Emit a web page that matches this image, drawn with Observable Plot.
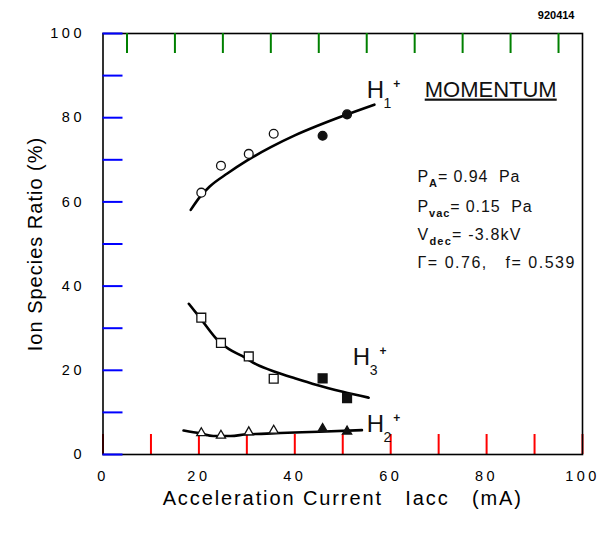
<!DOCTYPE html>
<html>
<head>
<meta charset="utf-8">
<script src="https://cdn.jsdelivr.net/npm/d3@7"></script>
<script src="https://cdn.jsdelivr.net/npm/@observablehq/plot@0.6"></script>
<style>
  html, body { margin: 0; padding: 0; background: #fff; }
  #chart svg [aria-label="x-axis tick label"] text,
  #chart svg [aria-label="y-axis tick label"] text { letter-spacing: 3.5px; }
</style>
</head>
<body>
<div id="chart"></div>
<script>
// ---- data ----
const currents = [20.5, 24.6, 30.4, 35.6, 45.8, 50.9];   // Iacc (mA)
const isFilled = [false, false, false, false, true, true];
const h1Ratio = [62.2, 68.6, 71.4, 76.2, 75.7, 80.8];
const h3Ratio = [32.5, 26.5, 23.3, 18.0, 18.1, 13.4];
const h2Ratio = [5.1, 4.5, 5.3, 5.7, 6.1, 5.5];

const h1FitX = [18.3, 20.3, 22.2, 26, 30, 35, 40, 45, 50, 56.6];
const h1FitY = [58.1, 61.3, 63.6, 66.8, 69.8, 73.0, 75.8, 78.2, 80.4, 83.1];
const h3FitX = [17.9, 20.2, 24.3, 26.2, 29, 32, 36, 40, 44.6, 50, 55.4];
const h3FitY = [35.8, 32.5, 26.7, 25.1, 23.4, 21.4, 19.6, 18.1, 16.5, 14.9, 13.5];
const h2FitX = [16.8, 20.3, 23, 26.6, 30, 33, 37, 45, 54];
const h2FitY = [5.7, 5.0, 4.4, 4.4, 4.8, 4.9, 5.1, 5.4, 5.8];

const xMajorTicks = [0, 10, 20, 30, 40, 50, 60, 70, 80, 90, 100];
const xMinorTicks = [5, 15, 25, 35, 45, 55, 65, 75, 85, 95];
const yMajorTicks = [0, 10, 20, 30, 40, 50, 60, 70, 80, 90, 100];
const yMinorTicks = [5, 15, 25, 35, 45, 55, 65, 75, 85, 95];
const xTickLabels = [0, 20, 40, 60, 80, 100];
const yTickLabels = [0, 20, 40, 60, 80, 100];

const xTitle = "Acceleration Current   Iacc   (mA)";
const yTitle = "Ion Species Ratio (%)";
const figId = "920414";

// ---- tables ----
const pts = (ys) => currents.map((x, i) => ({x, y: ys[i], fill: isFilled[i] ? "#111" : "white"}));
const fit = (xs, ys) => xs.map((x, i) => ({x, y: ys[i]}));
const h1Pts = pts(h1Ratio), h3Pts = pts(h3Ratio), h2Pts = pts(h2Ratio);

const ink = "#111";
const font = "'Liberation Sans', Arial, Helvetica, sans-serif";

const W = 610, H = 537, mL = 102.5, mR = 28, mT = 33, mB = 83;
const frameW = W - mL - mR, frameH = H - mT - mB;

const plot = Plot.plot({
  width: W,
  height: H,
  marginLeft: mL,
  marginRight: mR,
  marginTop: mT,
  marginBottom: mB,
  style: {fontFamily: font, background: "white"},
  x: {domain: [0, 100], label: null},
  y: {domain: [0, 100], label: null},
  marks: [
    Plot.tickX(xMajorTicks, {x: d => d, insetTop: frameH - 20, stroke: "red", strokeWidth: 2}),
    Plot.axisX(xTickLabels, {anchor: "bottom", tickSize: 0, tickPadding: 16, fontSize: 14.5, label: null}),
    Plot.axisY(yTickLabels, {anchor: "left", tickSize: 0, tickPadding: 18, fontSize: 14.5, label: null}),
    Plot.frame({strokeWidth: 1.6}),
    Plot.tickY(yMajorTicks, {y: d => d, insetRight: frameW - 20, stroke: "blue", strokeWidth: 2}),
    Plot.line(fit(h1FitX, h1FitY), {x: "x", y: "y", curve: "monotone-x", strokeWidth: 2.6}),
    Plot.line(fit(h3FitX, h3FitY), {x: "x", y: "y", curve: "monotone-x", strokeWidth: 2.6}),
    Plot.line(fit(h2FitX, h2FitY), {x: "x", y: "y", curve: "monotone-x", strokeWidth: 2.6}),
    Plot.dot(h1Pts, {x: "x", y: "y", symbol: "circle", r: 4.4, fill: "fill", stroke: ink, strokeWidth: 1.3}),
    Plot.dot(h3Pts, {x: "x", y: "y", symbol: "square", r: 5, fill: "fill", stroke: ink, strokeWidth: 1.3}),
    Plot.dot(h2Pts, {x: "x", y: "y", symbol: "triangle", r: 3.4, fill: "fill", stroke: ink, strokeWidth: 1.3}),
    Plot.tickX(xMinorTicks, {x: d => d, insetBottom: frameH - 20, stroke: "green", strokeWidth: 2}),
    Plot.text([xTitle], {frameAnchor: "bottom", dy: 44, fontSize: 20, textAnchor: "middle", lineAnchor: "middle"}),
    Plot.text([yTitle], {frameAnchor: "left", dx: -67, rotate: -90, fontSize: 20, textAnchor: "middle", lineAnchor: "middle"}),
    Plot.text([figId], {frameAnchor: "top-right", dx: -8, dy: -15, textAnchor: "end", lineAnchor: "bottom", fontSize: 11, fontWeight: "bold"})
  ]
});

document.getElementById("chart").appendChild(plot);
d3.select(plot).selectAll('[aria-label="text"] text').filter(function () { return this.textContent === xTitle; })
  .attr("letter-spacing", 1.9).style("white-space", "pre");
d3.select(plot).selectAll('[aria-label="text"] text').filter(function () { return this.textContent === yTitle; })
  .attr("letter-spacing", 1);

const sx = plot.scale("x"), sy = plot.scale("y");
const svg = d3.select(plot);
const g = svg.append("g").attr("font-family", font).attr("fill", ink).attr("text-anchor", "start");

function ionLabel(xv, yv, sub) {
  const t = g.append("text").attr("x", sx.apply(xv)).attr("y", sy.apply(yv)).attr("font-size", 24);
  t.append("tspan").text("H");
  t.append("tspan").attr("font-size", 14).attr("dy", 10).attr("dx", -0.5).text(sub);
  t.append("tspan").attr("font-size", 12).attr("font-weight", "bold").attr("dy", -20).attr("dx", 2).text("+");
}
ionLabel(55.1, 84.6, "1");
ionLabel(52.2, 21.2, "3");
ionLabel(55.1, 5.2, "2");

g.append("text")
  .attr("x", sx.apply(67.2)).attr("y", sy.apply(84.9))
  .attr("font-size", 22).attr("text-decoration", "underline")
  .text("MOMENTUM");

function param(yv, main, sub, rest, ls) {
  const t = g.append("text").attr("x", sx.apply(65.7)).attr("y", sy.apply(yv))
    .attr("font-size", 16).attr("letter-spacing", ls).style("white-space", "pre");
  t.append("tspan").text(main);
  if (sub) {
    t.append("tspan").attr("font-size", 11).attr("font-weight", "bold").attr("dy", 5).text(sub);
    t.append("tspan").attr("dy", -5).text(rest);
  } else {
    t.append("tspan").text(rest);
  }
}
param(64.65, "P", "A", "= 0.94  Pa", 0.9);
param(57.5, "P", "vac", "= 0.15  Pa", 0.9);
param(50.9, "V", "dec", "= -3.8kV", 1.2);
param(44.2, "\u0393", null, "= 0.76,   f= 0.539", 1.5);
</script>
</body>
</html>
